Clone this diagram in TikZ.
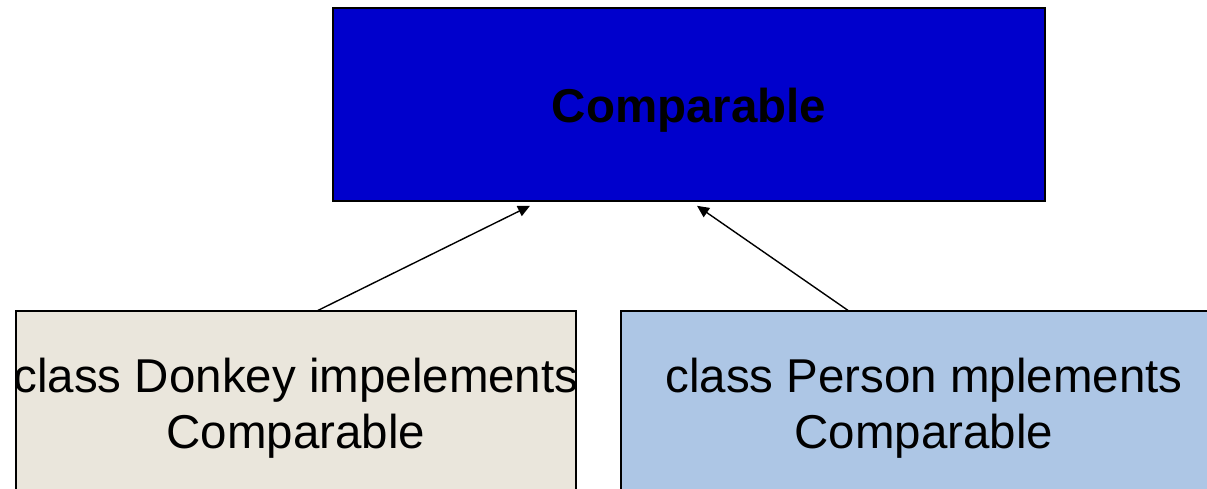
\documentclass[tikz,border=0pt]{standalone}
\usepackage{fontspec}
\setmainfont{Liberation Sans}
\usetikzlibrary{arrows.meta,calc}
\definecolor{topblue}{HTML}{0000CC}
\definecolor{beige}{HTML}{EAE6DC}
\definecolor{lightblue}{HTML}{ADC6E5}
\tikzset{
  box/.style={draw=black, rectangle, inner sep=0pt, align=center,
    font=\fontsize{47.5}{56}\selectfont, text=black},
  conn/.style={draw=black, line width=1.4pt, -{Triangle[length=12pt,width=11pt]}}
}
\begin{document}
\begin{tikzpicture}[x=1pt,y=-1pt]
\useasboundingbox (0,0) rectangle (1207,489);
\clip (0,0) rectangle (1207,489);
\fill[white] (0,0) rectangle (1207,489);
\node[box, fill=topblue, line width=1.6pt, minimum width=712pt, minimum height=193pt,
  font=\fontsize{47.5}{56}\selectfont\bfseries] (top) at (689,104.5)
  {\raisebox{-18pt}[0pt][0pt]{Comparable}};
\node[box, fill=beige, line width=1.2pt, minimum width=560pt, minimum height=194pt] (left) at (296,408)
  {\makebox[0pt]{class Donkey impelements}\\\makebox[0pt]{Comparable}};
\node[box, fill=lightblue, line width=1.2pt, minimum width=606pt, minimum height=194pt] (right) at (924,408)
  {\makebox[0pt]{class Person mplements}\\\makebox[0pt]{Comparable}};
\coordinate (s1) at ($(left.north)+(22,0)$);
\coordinate (e1) at ($(top.south)+(-159,4)$);
\coordinate (s2) at ($(right.north)+(-76,0)$);
\coordinate (e2) at ($(top.south)+(8,4)$);
\draw[conn] (s1) -- (e1);
\draw[conn] (s2) -- (e2);
\end{tikzpicture}
\end{document}
